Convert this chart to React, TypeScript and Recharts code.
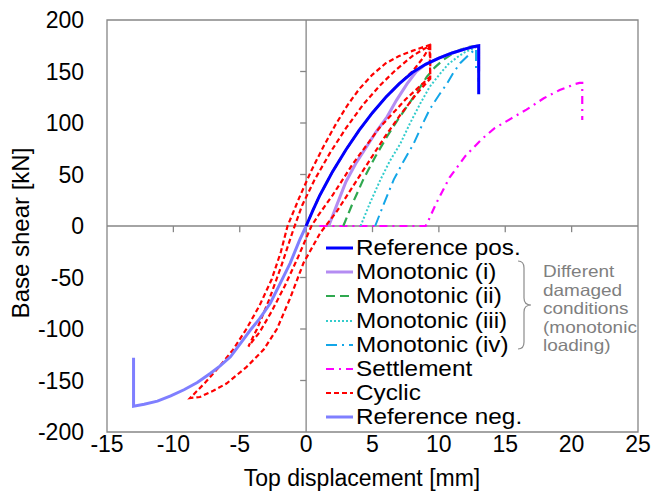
import React from "react";
import {
  LineChart, Line, XAxis, YAxis, ReferenceLine, ReferenceArea, Legend, Label,
} from "recharts";

const FONT = "'Liberation Sans', Arial, sans-serif";
const AXIS_GREY = "#868686";

const X_TICKS = [-15, -10, -5, 0, 5, 10, 15, 20, 25];
const Y_TICKS = [-200, -150, -100, -50, 0, 50, 100, 150, 200];

// displacement [mm] / base shear [kN] per curve
const refPosX = [0, 0.5, 1, 1.5, 2, 3, 4, 5, 6, 7, 8, 9, 10, 11, 12, 12.6, 13, 13];
const refPosY = [0, 15, 29, 41, 53, 74, 93, 110, 125, 138, 149, 157, 163, 168, 172, 174, 175, 128];

const mono1X = [1.7, 2.3, 3.0, 3.8, 4.6, 5.3, 6.1, 6.8, 7.6, 8.3, 9, 10, 11, 12, 12.6, 13, 13];
const mono1Y = [0, 20, 43, 62, 78, 92, 106, 122, 138, 150, 157, 163, 168, 172, 174, 175, 150];

const mono2X = [2.8, 3.5, 4.3, 5.2, 6.1, 6.9, 7.6, 8.4, 9.1, 9.7, 10.3, 11, 11.6, 12.3, 13, 13];
const mono2Y = [0, 22, 45, 67, 87, 103, 116, 131, 145, 154, 161, 167, 171, 174, 175, 140];

const mono3X = [4.1, 4.8, 5.6, 6.3, 7.1, 7.8, 8.6, 9.3, 10.1, 10.7, 11.4, 12, 12.7, 13, 13];
const mono3Y = [0, 22, 45, 63, 80, 99, 119, 135, 148, 157, 164, 169, 173, 175, 155];

const mono4X = [5.2, 5.9, 6.6, 7.3, 8.1, 8.7, 9.3, 10, 10.6, 11.1, 11.6, 12.4, 12.8, 12.8];
const mono4Y = [0, 23, 45, 62, 80, 97, 113, 127, 138, 149, 158, 168, 172, 152];

const settleX = [1.0, 9.0, 9.2, 9.8, 10.8, 12, 13.2, 14.2, 15.4, 16.6, 17.9, 19.1, 20.3, 20.6, 20.8, 20.8];
const settleY = [0, 0, 5, 22, 47, 68, 84, 95, 104, 113, 124, 132, 138, 139, 139, 103];

const cyclicX = [
  0, 0.5, 1, 2, 3, 4, 5, 6, 7, 8, 8.8, 9.3,
  9.35, 7.5, 5.5, 3.5, 2, 0.9, 0.4, -0.6, -1.6, -2.6, -3.5, -4.35,
  -3.7, -2.8, -1.9, -1.0, -0.3, 0.6, 1.8, 3, 4.3, 5.6, 6.8, 8, 8.9, 9.35,
  9.35, 8.3, 7.1, 5.9, 4.7, 3.5, 2.3, 1.05, -0.2, -1.2, -2.2, -3.2, -4.5, -6, -7, -8, -8.74,
  -7.6, -6.5, -5.5, -4.5, -3.5, -2.6, -1.9, -1.4, -0.5, 0.4, 1.3, 2.2, 3.1, 4.0, 5.0, 6.0, 7.0, 8.0, 8.9, 9.6,
];
const cyclicY = [
  0, 15, 29, 53, 74, 93, 110, 125, 138, 150, 163, 174,
  145, 123, 95, 60, 30, 10, 0, -30, -58, -83, -103, -117,
  -100, -72, -40, -5, 20, 44, 71, 95, 118, 137, 152, 165, 172, 175,
  143, 128, 108, 86, 62, 38, 14, -7, -36, -70, -100, -120, -137, -153, -160, -166, -167,
  -152, -136, -120, -100, -77, -52, -25, 0, 28, 54, 77, 98, 117, 133, 147, 158, 165, 170, 174, 177,
];

const refNegX = [0, -0.5, -1.2, -2, -2.7, -3.5, -4.2, -5, -5.7, -6.5, -7.2, -8.2, -9.2, -10.2, -11.2, -12.2, -13, -13];
const refNegY = [0, -14, -36, -57, -75, -90, -101, -115, -127, -136, -143, -152, -159, -165, -170, -173, -175, -128];

const NOTE_LINES = ["Different", "damaged", "conditions", "(monotonic", "loading)"];

const pts = (xs: number[], ys: number[]) => xs.map((x, i) => ({ x, y: ys[i] }));

interface SeriesDef {
  name: string;
  data: { x: number; y: number }[];
  color: string;
  width: number;
  dash?: string;
}

const SERIES: SeriesDef[] = [
  { name: "Reference pos.", data: pts(refPosX, refPosY), color: "#0000ff", width: 3 },
  { name: "Monotonic (i)", data: pts(mono1X, mono1Y), color: "#b48cf2", width: 3 },
  { name: "Monotonic (ii)", data: pts(mono2X, mono2Y), color: "#2fa84f", width: 2.2, dash: "9 5" },
  { name: "Monotonic (iii)", data: pts(mono3X, mono3Y), color: "#33cccc", width: 2, dash: "2 2" },
  { name: "Monotonic (iv)", data: pts(mono4X, mono4Y), color: "#13a6e8", width: 2, dash: "11 5 2 5" },
  { name: "Settlement", data: pts(settleX, settleY), color: "#ff00ff", width: 2.2, dash: "8 5 2 5" },
  { name: "Cyclic", data: pts(cyclicX, cyclicY), color: "#ff0000", width: 2.2, dash: "5 3" },
  { name: "Reference neg.", data: pts(refNegX, refNegY), color: "#7f7fff", width: 3 },
];

// draw order: damaged curves first, references on top
const DRAW_ORDER = [5, 4, 3, 2, 1, 6, 7, 0];

// tight rows: smaller font stretched sideways so the lines keep their width
const rowText = (size: number, h: number, stretch: number, color: string): React.CSSProperties => ({
  display: "inline-block", height: h, lineHeight: `${h}px`, fontSize: size,
  color, whiteSpace: "nowrap", verticalAlign: "top",
  transform: `scaleX(${stretch})`, transformOrigin: "left center",
});

const LegendBox = () => (
  <div style={{ position: "relative", width: 331, height: 196, fontFamily: FONT }}>
    {SERIES.map((s) => (
      <div key={s.name} style={{ display: "flex", alignItems: "center", height: 24.2 }}>
        <svg width={49} height={24} style={{ flex: "none" }}>
          <line x1={19} x2={46} y1={12} y2={12} stroke={s.color} strokeWidth={s.width}
            strokeDasharray={s.dash} />
        </svg>
        <span style={rowText(21.5, 24.2, 1.13, "#000")}>{s.name}</span>
      </div>
    ))}
    <svg width={20} height={120} style={{ position: "absolute", left: 209, top: 0 }}>
      <path d="M 2 25 Q 8 25 8 32 L 8 62 Q 8 69 15 69 Q 8 69 8 76 L 8 106 Q 8 113 2 113"
        fill="none" stroke="#8c8c8c" strokeWidth={1.2} />
    </svg>
    <div style={{ position: "absolute", left: 236, top: 26 }}>
      {NOTE_LINES.map((t) => (
        <div key={t} style={{ height: 18.6 }}>
          <span style={rowText(16.5, 18.6, 1.15, "#7f7f7f")}>{t}</span>
        </div>
      ))}
    </div>
  </div>
);

export default function App() {
  const tickStyle = { fontSize: 23, fill: "#000", fontFamily: FONT };
  return (
    <div style={{ position: "absolute", left: 0, top: 0, background: "#fff" }}>
      <LineChart width={654} height={500} margin={{ top: 20, right: 16, bottom: 20, left: 0 }}>
        <XAxis type="number" dataKey="x" domain={[-15, 25]} ticks={X_TICKS} allowDataOverflow
          axisLine={false} tickLine={false} tickSize={4} tickMargin={0} height={48} tick={tickStyle}>
          <Label content={() => (
            <text x={362} y={486} textAnchor="middle" fontSize={23} fontFamily={FONT} fill="#000">
              Top displacement [mm]
            </text>
          )} />
        </XAxis>
        <YAxis type="number" dataKey="y" domain={[-200, 200]} ticks={Y_TICKS} allowDataOverflow
          axisLine={false} tickLine={false} tickSize={6} tickMargin={17} width={107} tick={tickStyle}>
          <Label content={() => (
            <text x={0} y={0} transform="translate(29,233) rotate(-90)" textAnchor="middle"
              fontSize={24} fontFamily={FONT} fill="#000">
              Base shear [kN]
            </text>
          )} />
        </YAxis>
        <ReferenceArea x1={-15} x2={25} y1={-200} y2={200} fill="none" stroke={AXIS_GREY} strokeWidth={1.3} />
        <ReferenceLine x={0} stroke={AXIS_GREY} strokeWidth={1.3} />
        <ReferenceLine y={0} stroke={AXIS_GREY} strokeWidth={1.3} />
        {X_TICKS.slice(1, -1).map((t) => (
          <ReferenceLine key={`xt${t}`} segment={[{ x: t, y: 0 }, { x: t, y: -6 }]}
            stroke={AXIS_GREY} strokeWidth={1.3} />
        ))}
        {Y_TICKS.slice(1, -1).map((t) => (
          <ReferenceLine key={`yt${t}`} segment={[{ x: -0.45, y: t }, { x: 0, y: t }]}
            stroke={AXIS_GREY} strokeWidth={1.3} />
        ))}
        {DRAW_ORDER.map((i) => {
          const s = SERIES[i];
          return (
            <Line key={s.name} data={s.data} dataKey="y" name={s.name} type="linear"
              stroke={s.color} strokeWidth={s.width} strokeDasharray={s.dash}
              dot={false} activeDot={false} isAnimationActive={false} />
          );
        })}
        <Legend layout="vertical" align="center" verticalAlign="middle"
          wrapperStyle={{ left: 307, top: 236, width: 331 }} content={() => <LegendBox />} />
      </LineChart>
    </div>
  );
}
